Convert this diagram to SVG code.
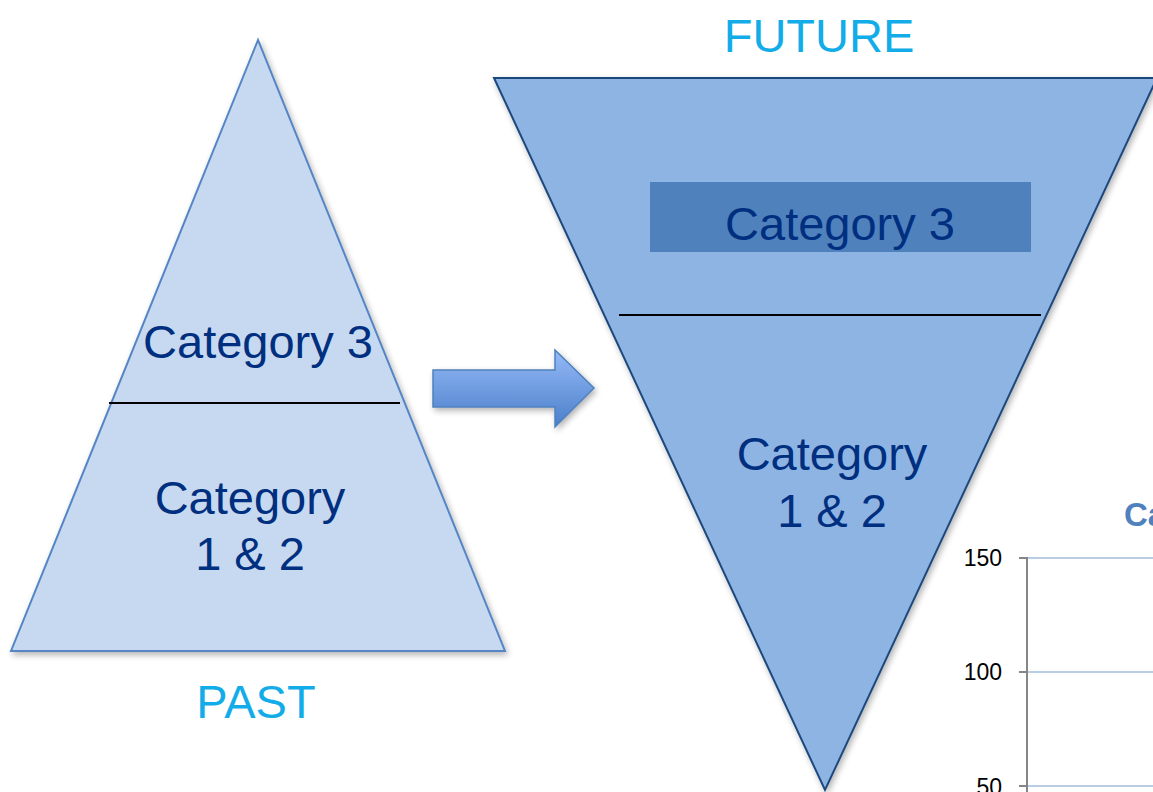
<svg xmlns="http://www.w3.org/2000/svg" width="1153" height="792" viewBox="0 0 1153 792">
<style>
.cat{font-family:"Liberation Sans",Arial,sans-serif;font-size:47px;fill:#002F80;text-anchor:middle}
.lbl{font-family:"Liberation Sans",Arial,sans-serif;font-size:47px;fill:#12ACE8;text-anchor:middle}
.ax{font-family:"Liberation Sans",Arial,sans-serif;font-size:23px;fill:#000;text-anchor:end}
.div{stroke:#000;stroke-width:2}
.grid{stroke:#B9CDE5;stroke-width:2}
.tick{stroke:#868686;stroke-width:2}
</style>
<defs>
<linearGradient id="ag" x1="0" y1="0" x2="0" y2="1">
<stop offset="0" stop-color="#95BAF7"/>
<stop offset="1" stop-color="#4B7FCA"/>
</linearGradient>
<filter id="sh" x="-10%" y="-10%" width="130%" height="130%">
<feGaussianBlur in="SourceAlpha" stdDeviation="3"/>
<feOffset dx="2" dy="3" result="b"/>
<feComponentTransfer><feFuncA type="linear" slope="0.3"/></feComponentTransfer>
<feMerge><feMergeNode/><feMergeNode in="SourceGraphic"/></feMerge>
</filter>
</defs>
<rect width="1153" height="792" fill="#fff"/>

<g id="chart">
<line class="grid" x1="1027" y1="558" x2="1153" y2="558"/>
<line class="grid" x1="1027" y1="672" x2="1153" y2="672"/>
<line class="grid" x1="1027" y1="786" x2="1153" y2="786"/>
<line class="tick" x1="1027" y1="557" x2="1027" y2="792"/>
<line class="tick" x1="1019" y1="558" x2="1027" y2="558"/>
<line class="tick" x1="1019" y1="672" x2="1027" y2="672"/>
<line class="tick" x1="1019" y1="786" x2="1027" y2="786"/>
<text class="ax" x="1002" y="566">150</text>
<text class="ax" x="1002" y="680">100</text>
<text class="ax" x="1002" y="795">50</text>
<text x="1124" y="526" font-family="Liberation Sans,Arial,sans-serif" font-size="33" font-weight="bold" fill="#4F81BD">Ca</text>
</g>

<g id="past">
<polygon points="258,40 11,651 505,651" fill="#C6D9F1" stroke="#5585C4" stroke-width="2" filter="url(#sh)"/>
<line class="div" x1="109" y1="403" x2="400" y2="403"/>
<text class="cat" x="258" y="358">Category 3</text>
<text class="cat" x="250" y="514">Category</text>
<text class="cat" x="250" y="570">1 &amp; 2</text>
<text class="lbl" x="256" y="718">PAST</text>
</g>

<g id="future">
<polygon points="494,78 1157,78 825,790" fill="#8EB4E3" stroke="#1F497D" stroke-width="2" filter="url(#sh)"/>
<line class="div" x1="619" y1="315" x2="1041" y2="315"/>
<rect x="650" y="182" width="381" height="70" fill="#4F81BD"/>
<text class="cat" x="840" y="240">Category 3</text>
<text class="cat" x="832" y="470">Category</text>
<text class="cat" x="832" y="527">1 &amp; 2</text>
<text class="lbl" x="819" y="52">FUTURE</text>
</g>

<g id="connectors">
<polygon points="433,370 555,370 555,350 594,388 555,427 555,407 433,407" fill="url(#ag)" stroke="#4F81BD" stroke-width="1.5" filter="url(#sh)"/>
</g>
</svg>
